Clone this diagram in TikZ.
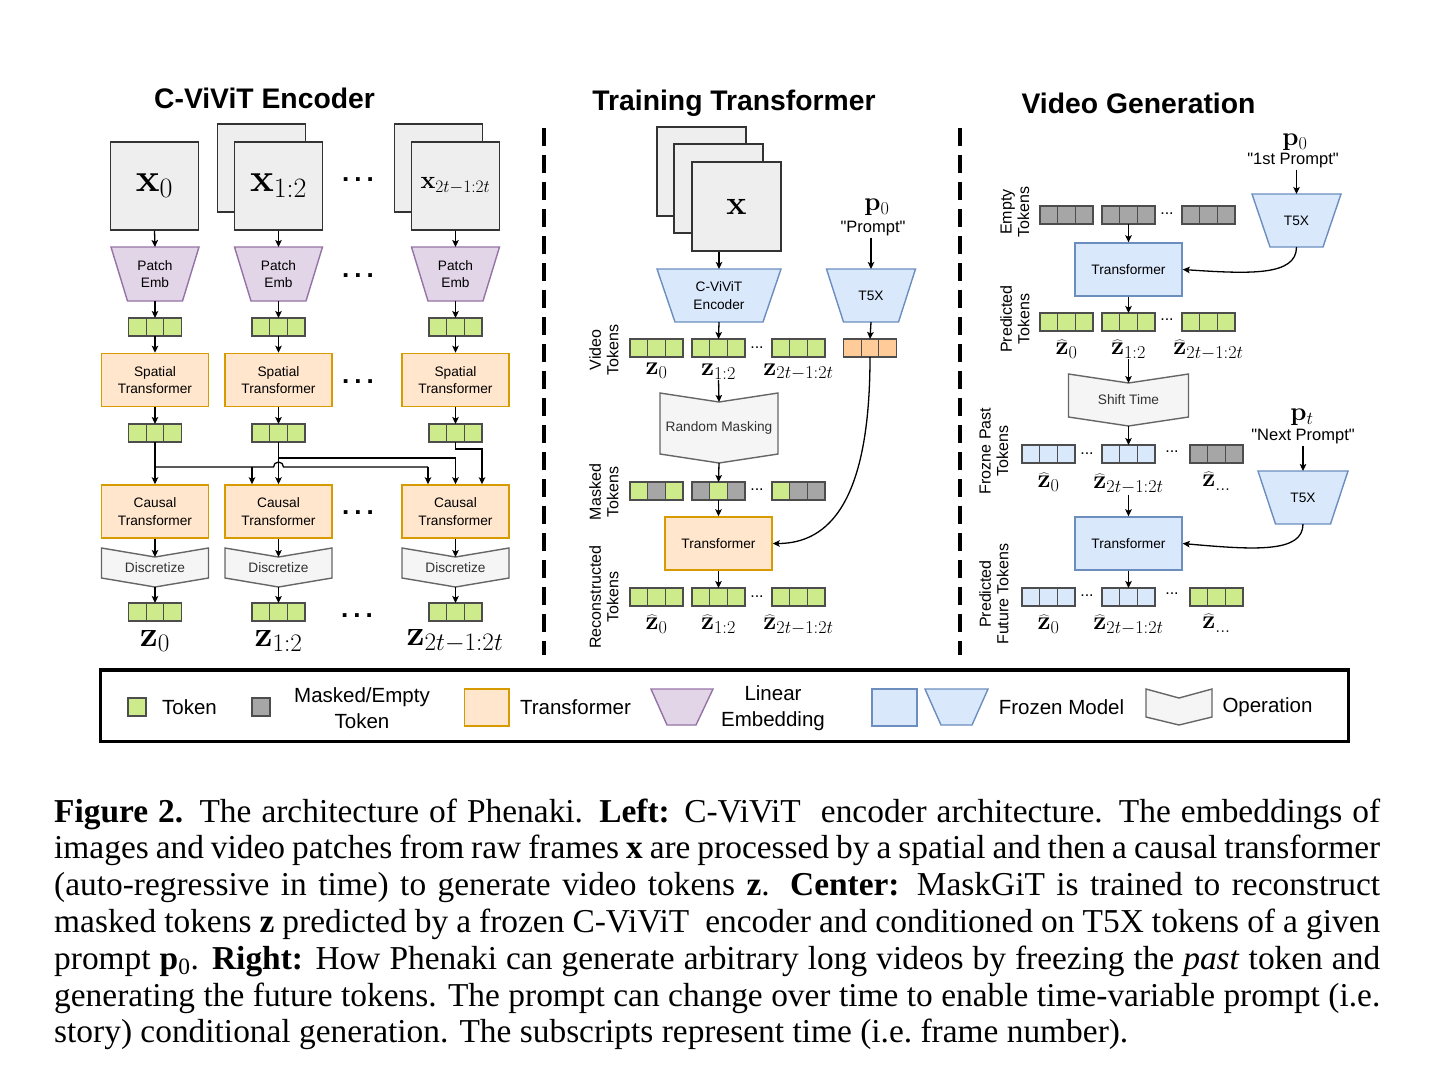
\RequirePackage{fix-cm}
\documentclass[tikz,border=0pt]{standalone}
\usepackage[no-math]{fontspec}
\setmainfont{Liberation Sans}
\newfontfamily\capfont{Liberation Serif}
\usetikzlibrary{arrows.meta,calc}

\definecolor{tokG}{HTML}{CDEB8B}
\definecolor{tokM}{HTML}{A6A6A6}
\definecolor{tokB}{HTML}{DAE8FC}
\definecolor{tokO}{HTML}{FFCC99}
\definecolor{tokS}{HTML}{4D4D4D}
\definecolor{trF}{HTML}{FFE6CC}
\definecolor{trS}{HTML}{D79B00}
\definecolor{puF}{HTML}{E1D5E7}
\definecolor{puS}{HTML}{9673A6}
\definecolor{blF}{HTML}{DAE8FC}
\definecolor{blS}{HTML}{6C8EBF}
\definecolor{opF}{HTML}{F5F5F5}
\definecolor{opS}{HTML}{666666}
\definecolor{frF}{HTML}{EEEEEE}
\definecolor{frS}{HTML}{333333}

\newcommand{\boxfont}{\fontsize{13.7}{17.5}\selectfont}
\newcommand{\qq}{\textquotedbl}

\tikzset{
  coverbox/.style={inner sep=0pt, outer sep=0pt},
  tok/.style={draw=tokS, line width=1.2pt},
  pu/.style={fill=puF, draw=puS, line width=1.4pt},
  bl/.style={fill=blF, draw=blS, line width=1.4pt},
  opst/.style={fill=opF, draw=opS, line width=1.4pt},
  trbox/.style={fill=trF, draw=trS, line width=1.5pt, minimum width=107pt, minimum height=53pt, align=center, inner sep=0pt, font=\boxfont},
  blbox/.style={fill=blF, draw=blS, line width=1.4pt, minimum width=107pt, minimum height=53pt, align=center, inner sep=0pt, font=\boxfont},
  framebox/.style={fill=frF, draw=frS, line width=1.5pt, minimum width=88pt, minimum height=88pt, inner sep=0pt},
  arr/.style={-{Stealth[length=7pt,width=6.5pt,inset=1.5pt]}, line width=1.3pt},
  ln/.style={line width=1.3pt},
  sepline/.style={line width=4.5pt, dash pattern=on 18pt off 9pt},
  ttl/.style={font=\bfseries\fontsize{28.3}{28.3}\selectfont, inner sep=0pt},
  bigdots/.style={font=\bfseries\fontsize{26}{26}\selectfont, inner sep=0pt},
  smalldots/.style={font=\fontsize{16}{16}\selectfont, inner sep=0pt},
  rotlab/.style={rotate=90, align=center, font=\fontsize{16}{17.5}\selectfont, inner sep=0pt},
  zL/.style={font=\fontsize{36}{36}\selectfont, inner sep=0pt},
  zC/.style={font=\fontsize{26}{26}\selectfont, inner sep=0pt},
  zH/.style={font=\fontsize{26}{26}\selectfont, inner sep=0pt, anchor=north},
  pL/.style={font=\fontsize{26}{26}\selectfont, inner sep=0pt},
  prm/.style={font=\fontsize{16.5}{18}\selectfont, inner sep=1pt},
  legtxt/.style={font=\fontsize{20.5}{26}\selectfont, align=center, inner sep=0pt},
  captxt/.style={font=\capfont\fontsize{33.4}{36.8}\selectfont, inner sep=0pt, anchor=base west},
}

% token row: name, x0, ytop, colours
\newcommand{\TokRow}[4]{%
  \foreach \cc [count=\ii from 0] in {#4} {\path[tok, fill=\cc] ({#2+\ii*17.667},#3) rectangle ++(17.667,18);}
  \node[coverbox, minimum width=53pt, minimum height=18pt] (#1) at ({#2+26.5},{#3+9}) {};
}
% trapezoid: style, name, cx, ytop, topw, botw, h, text
\newcommand{\Trap}[8]{%
  \path[#1] ({#3-#5/2},#4) -- ({#3+#5/2},#4) -- ({#3+#6/2},{#4+#7}) -- ({#3-#6/2},{#4+#7}) -- cycle;
  \node[coverbox, minimum width=#5pt, minimum height=#7pt, align=center, font=\boxfont] (#2) at (#3,{#4+#7/2}) {#8};
}
% operation shape: name, cx, ytop, w, h, notch, text
\newcommand{\OpShape}[7]{%
  \path[opst] ({#2-#4/2},#3) -- (#2,{#3+#6}) -- ({#2+#4/2},#3) -- ({#2+#4/2},{#3+#5-#6}) -- (#2,{#3+#5}) -- ({#2-#4/2},{#3+#5-#6}) -- cycle;
  \node[coverbox, minimum width=#4pt, minimum height=#5pt, align=center, font=\boxfont, text=black!80] (#1) at (#2,{#3+#5/2}) {#7};
  \coordinate (#1-in) at (#2,{#3+#6});
}

\begin{document}
\begin{tikzpicture}[x=1pt,y=-1pt]
\useasboundingbox (0,0) rectangle (1429,1080);
\fill[white] (0,0) rectangle (1429,1080);

% ---------- titles ----------
\node[ttl] (tt1) at (264.5,98) {C-ViViT Encoder};
\node[ttl] (tt2) at (734,103) {Training Transformer};
\node[ttl] (tt3) at (1138.5,103) {Video Generation};

% ---------- separators ----------
\draw[sepline] (544,128) -- (544,655);
\draw[sepline] (960,128) -- (960,655);

% ================= LEFT PANEL =================
\node[framebox, font=\fontsize{40}{40}\selectfont] (f1) at (154.5,186) {$\mathbf{x}_0$};
\node[framebox] (f2b) at (261.5,168) {};
\node[framebox, font=\fontsize{40}{40}\selectfont] (f2) at (278.5,186) {$\mathbf{x}_{1:2}$};
\node[framebox] (f3b) at (438.5,168) {};
\node[framebox, font=\fontsize{25}{25}\selectfont] (f3) at (455.5,186) {$\mathbf{x}_{2t-1:2t}$};

\Trap{pu}{pe1}{155}{247}{88}{55}{54}{Patch\\Emb}
\Trap{pu}{pe2}{278.5}{247}{88}{55}{54}{Patch\\Emb}
\Trap{pu}{pe3}{455.5}{247}{88}{55}{54}{Patch\\Emb}

\TokRow{ta1}{128.5}{318}{tokG,tokG,tokG}
\TokRow{ta2}{252}{318}{tokG,tokG,tokG}
\TokRow{ta3}{429}{318}{tokG,tokG,tokG}

\node[trbox] (s1) at (155,380) {Spatial\\Transformer};
\node[trbox] (s2) at (278.5,380) {Spatial\\Transformer};
\node[trbox] (s3) at (455.5,380) {Spatial\\Transformer};

\TokRow{tb1}{128.5}{424}{tokG,tokG,tokG}
\TokRow{tb2}{252}{424}{tokG,tokG,tokG}
\TokRow{tb3}{429}{424}{tokG,tokG,tokG}

\node[trbox] (c1) at (155,511.5) {Causal\\Transformer};
\node[trbox] (c2) at (278.5,511.5) {Causal\\Transformer};
\node[trbox] (c3) at (455.5,511.5) {Causal\\Transformer};

\OpShape{dz1}{155}{548}{107}{39}{9}{Discretize}
\OpShape{dz2}{278.5}{548}{107}{39}{9}{Discretize}
\OpShape{dz3}{455.5}{548}{107}{39}{9}{Discretize}

\TokRow{tc1}{128.5}{603}{tokG,tokG,tokG}
\TokRow{tc2}{252}{603}{tokG,tokG,tokG}
\TokRow{tc3}{429}{603}{tokG,tokG,tokG}

\node[zL] (zl1) at (155,641) {$\mathbf{z}_0$};
\node[zL] (zl2) at (278.5,641) {$\mathbf{z}_{1:2}$};
\node[zL] (zl3) at (455,641) {$\mathbf{z}_{2t-1:2t}$};

\node[bigdots] (ld1) at (358,180) {.\kern5pt.\kern5pt.};
\node[bigdots] (ld2) at (358,276) {.\kern5pt.\kern5pt.};
\node[bigdots] (ld3) at (358,382) {.\kern5pt.\kern5pt.};
\node[bigdots] (ld4) at (358,513) {.\kern5pt.\kern5pt.};
\node[bigdots] (ld5) at (357,616) {.\kern5pt.\kern5pt.};

\foreach \i in {1,2,3} {
  \draw[arr] (f\i.south) -- (pe\i.north);
  \draw[arr] (pe\i.south) -- (ta\i.north);
  \draw[arr] (ta\i.south) -- (s\i.north);
  \draw[arr] (s\i.south) -- (tb\i.north);
  \draw[arr] (c\i.south) -- (dz\i-in);
  \draw[arr] (dz\i.south) -- (tc\i.north);
}
\draw[arr] (tb1.south) -- (c1.north);
\draw[arr] (tb2.south) -- (c2.north);
\coordinate (a1) at (155,467);
\coordinate (a2) at (252,467);
\coordinate (a3) at (428,467);
\draw[ln] (a1) -- (273.5,467) arc[start angle=180, end angle=360, radius=5] -- (a3);
\draw[arr] (a2) -- (a2 |- c2.north);
\draw[arr] (a3) -- (a3 |- c3.north);
\coordinate (b1) at (278.5,458);
\coordinate (b2) at (455.5,458);
\draw[ln] (b1) -- (b2);
\draw[arr] (b2) -- (b2 |- c3.north);
\coordinate (e3) at (482,449);
\draw[arr] (tb3.south) |- (e3) -- (e3 |- c3.north);

% ================= CENTER PANEL =================
\node[framebox, minimum height=89pt, minimum width=89pt] (fcb) at (701.5,171.5) {};
\node[framebox, minimum height=89pt, minimum width=89pt] (fcm) at (718.5,188.5) {};
\node[framebox, minimum height=89pt, minimum width=89pt, font=\fontsize{34}{34}\selectfont] (fc) at (736.5,206.5) {$\mathbf{x}$};

\Trap{bl}{enc}{719}{269}{124}{88}{53}{C-ViViT\\Encoder}
\Trap{bl}{t5c}{871}{269}{89}{55}{53}{T5X}

\node[pL] (pc0) at (877,207) {$\mathbf{p}_0$};
\node[prm] (pc1) at (873,229) {\qq Prompt\qq};

\TokRow{vt1}{630}{339}{tokG,tokG,tokG}
\TokRow{vt2}{692}{339}{tokG,tokG,tokG}
\TokRow{vt3}{772}{339}{tokG,tokG,tokG}
\TokRow{to}{843.5}{339}{tokO,tokO,tokO}
\node[smalldots] (cd1) at (757,348) {...};

\node[zC] (zc1) at (656.5,371) {$\mathbf{z}_0$};
\node[zC] (zc2) at (718.5,372) {$\mathbf{z}_{1:2}$};
\node[zC] (zc3) at (798.5,372) {$\mathbf{z}_{2t-1:2t}$};

\OpShape{rm}{719}{393}{118}{70}{9}{Random Masking}

\TokRow{mt1}{630}{482}{tokG,tokM,tokG}
\TokRow{mt2}{692}{482}{tokM,tokG,tokM}
\TokRow{mt3}{772}{482}{tokG,tokM,tokM}
\node[smalldots] (cd2) at (757,490) {...};

\node[trbox] (trc) at (718.5,543.5) {Transformer};

\TokRow{rt1}{630}{588}{tokG,tokG,tokG}
\TokRow{rt2}{692}{588}{tokG,tokG,tokG}
\TokRow{rt3}{772}{588}{tokG,tokG,tokG}
\node[smalldots] (cd3) at (757,597) {...};

\node[zH] (zr1) at (656.5,615) {$\widehat{\mathbf{z}}_0$};
\node[zH] (zr2) at (718.5,615) {$\widehat{\mathbf{z}}_{1:2}$};
\node[zH] (zr3) at (798.5,615) {$\widehat{\mathbf{z}}_{2t-1:2t}$};

\node[rotlab] (cl1) at (604,350) {Video\\Tokens};
\node[rotlab] (cl2) at (604,492) {Masked\\Tokens};
\node[rotlab] (cl3) at (604,597) {Reconstructed\\Tokens};

\draw[arr] (fc.south -| enc.north) -- (enc.north);
\draw[arr] (enc.south) -- (vt2.north);
\draw[arr] (pc1.south -| t5c.north) -- (t5c.north);
\draw[arr] (t5c.south) -- (to.north);
\draw[arr] (zc2.south) -- (rm-in);
\draw[arr] (rm.south) -- (mt2.north);
\draw[arr] (mt2.south) -- (trc.north);
\draw[arr] (trc.south) -- (rt2.north);
\draw[arr] (to.south) .. controls (870,500) and (830,543.5) .. (trc.east);

% ================= RIGHT PANEL =================
\node[pL] (pa0) at (1295,142) {$\mathbf{p}_0$};
\node[prm] (pa1) at (1293,161) {\qq 1st Prompt\qq};
\Trap{bl}{t5a}{1296.5}{194}{89}{53}{53}{T5X}

\TokRow{er1}{1040}{206}{tokM,tokM,tokM}
\TokRow{er2}{1102}{206}{tokM,tokM,tokM}
\TokRow{er3}{1182}{206}{tokM,tokM,tokM}
\node[smalldots] (rd1) at (1167,214) {...};

\node[blbox] (tf1) at (1128.5,269.5) {Transformer};

\TokRow{pr1}{1040}{313}{tokG,tokG,tokG}
\TokRow{pr2}{1102}{313}{tokG,tokG,tokG}
\TokRow{pr3}{1182}{313}{tokG,tokG,tokG}
\node[smalldots] (rd2) at (1167,320) {...};

\node[zH] (zp1) at (1066.5,340) {$\widehat{\mathbf{z}}_0$};
\node[zH] (zp2) at (1128.5,340) {$\widehat{\mathbf{z}}_{1:2}$};
\node[zH] (zp3) at (1208.5,340) {$\widehat{\mathbf{z}}_{2t-1:2t}$};

\OpShape{st}{1128.5}{374}{120}{52}{9}{Shift Time}

\TokRow{fp1}{1022}{445}{tokB,tokB,tokB}
\TokRow{fp2}{1102}{445}{tokB,tokB,tokB}
\TokRow{fp3}{1190}{445}{tokM,tokM,tokM}
\node[smalldots] (rd3) at (1087,454) {...};
\node[smalldots] (rd4) at (1172,452) {...};

\node[zH] (zf1) at (1048.5,473) {$\widehat{\mathbf{z}}_0$};
\node[zH] (zf2) at (1128.5,474) {$\widehat{\mathbf{z}}_{2t-1:2t}$};
\node[zH] (zf3) at (1216.5,472) {$\widehat{\mathbf{z}}_{\ldots}$};

\node[pL] (pb0) at (1302,417) {$\mathbf{p}_t$};
\node[prm] (pb1) at (1303,437) {\qq Next Prompt\qq};
\Trap{bl}{t5b}{1303}{471}{90}{55}{53}{T5X}

\node[blbox] (tf2) at (1128.5,543.5) {Transformer};

\TokRow{ff1}{1022}{588}{tokB,tokB,tokB}
\TokRow{ff2}{1102}{588}{tokB,tokB,tokB}
\TokRow{ff3}{1190}{588}{tokG,tokG,tokG}
\node[smalldots] (rd5) at (1087,596) {...};
\node[smalldots] (rd6) at (1172,594) {...};

\node[zH] (zu1) at (1048.5,615) {$\widehat{\mathbf{z}}_0$};
\node[zH] (zu2) at (1128.5,615) {$\widehat{\mathbf{z}}_{2t-1:2t}$};
\node[zH] (zu3) at (1216.5,614) {$\widehat{\mathbf{z}}_{\ldots}$};

\node[rotlab] (rl1) at (1015,212) {Empty\\Tokens};
\node[rotlab] (rl2) at (1015,319) {Predicted\\Tokens};
\node[rotlab] (rl3) at (994,451) {Frozne Past\\Tokens};
\node[rotlab] (rl4) at (994,594) {Predicted\\Future Tokens};

\draw[arr] (pa1.south -| t5a.north) -- (t5a.north);
\draw[arr] (er2.south) -- (tf1.north);
\draw[arr] (t5a.south) .. controls (1296.5,276) and (1250,274) .. (tf1.east);
\draw[arr] (tf1.south) -- (pr2.north);
\draw[arr] (zp2.south) -- (st-in);
\draw[arr] (st.south) -- (fp2.north);
\draw[arr] (zf2.south) -- (tf2.north);
\draw[arr] (pb1.south -| t5b.north) -- (t5b.north);
\draw[arr] (t5b.south) .. controls (1303,553) and (1255,550) .. (tf2.east);
\draw[arr] (tf2.south) -- (ff2.north);

% ================= LEGEND =================
\draw[line width=3.5pt] (100.5,670) rectangle (1348.5,741.5);
\path[tok, fill=tokG, line width=1.5pt] (128,698) rectangle (146,716);
\node[legtxt] (lg1) at (189.5,707) {Token};
\path[tok, fill=tokM, line width=1.5pt] (252,698) rectangle (270,716);
\node[legtxt] (lg2) at (362,708) {Masked/Empty\\Token};
\path[fill=trF, draw=trS, line width=1.5pt] (464.5,689) rectangle (509,726);
\node[legtxt] (lg3) at (575.5,707) {Transformer};
\path[pu] (651,689) -- (713,689) -- (696,725) -- (667,725) -- cycle;
\node[legtxt] (lg4) at (773,708) {Linear\\Embedding};
\path[bl] (872,689) rectangle (917,726);
\path[bl] (925,689) -- (988,689) -- (972,725) -- (941,725) -- cycle;
\node[legtxt] (lg5) at (1061.5,707) {Frozen Model};
\path[opst] (1146,689) -- (1179,698) -- (1212,689) -- (1212,717) -- (1179,725) -- (1146,717) -- cycle;
\node[legtxt] (lg6) at (1267.5,707) {Operation};

% ================= CAPTION =================
\node[captxt] (cap1) at (54,822) {\hbox to 1326pt{\textbf{Figure 2.} The architecture of Phenaki. \textbf{Left:} C-ViViT\ \ encoder architecture. The embeddings of}};
\node[captxt] (cap2) at (54,858.8) {\hbox to 1326pt{images and video patches from raw frames \textbf{x} are processed by a spatial and then a causal transformer}};
\node[captxt] (cap3) at (54,895.6) {\hbox to 1326pt{(auto-regressive in time) to generate video tokens \textbf{z}. \textbf{Center:} MaskGiT is trained to reconstruct}};
\node[captxt] (cap4) at (54,932.4) {\hbox to 1326pt{masked tokens \textbf{z} predicted by a frozen C-ViViT\ \ encoder and conditioned on T5X tokens of a given}};
\node[captxt] (cap5) at (54,969.2) {\hbox to 1326pt{prompt \textbf{p}\textsubscript{0}. \textbf{Right:} How Phenaki can generate arbitrary long videos by freezing the \textit{past} token and}};
\node[captxt] (cap6) at (54,1006) {\hbox to 1326pt{generating the future tokens. The prompt can change over time to enable time-variable prompt (i.e.}};
\node[captxt] (cap7) at (54,1042.8) {story) conditional generation. The subscripts represent time (i.e.\ frame number).};

\end{tikzpicture}
\end{document}
